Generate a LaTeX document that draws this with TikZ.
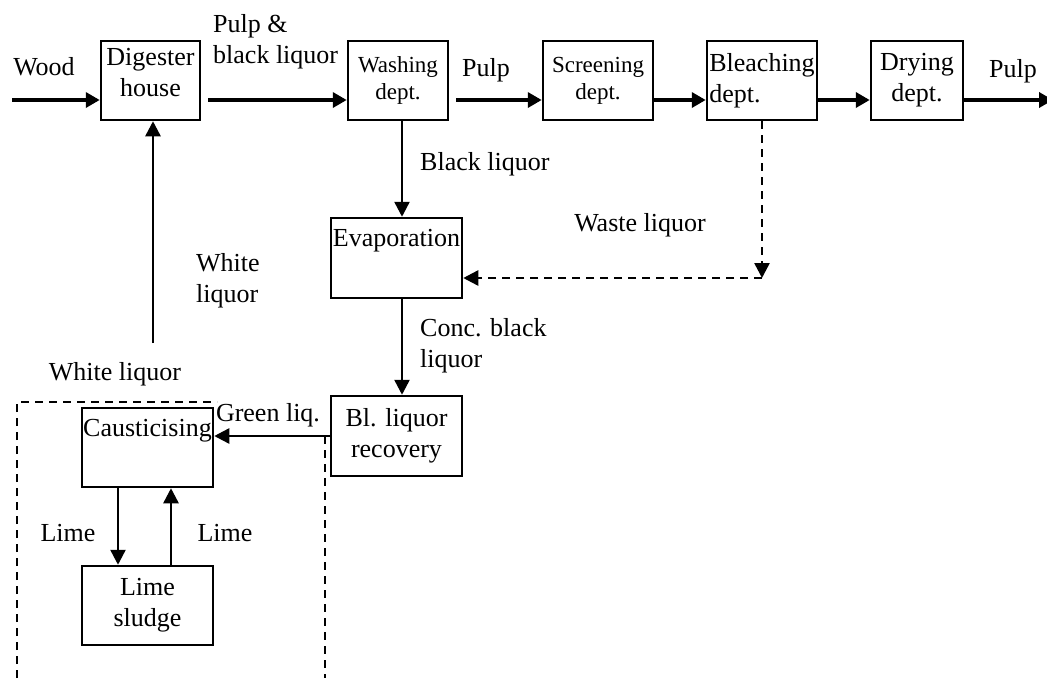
\documentclass[tikz,border=0pt]{standalone}
\usepackage{fontspec}
\setmainfont{Liberation Serif}
\usetikzlibrary{arrows.meta}

\begin{document}
\begin{tikzpicture}[x=1pt,y=-1pt,
    every node/.style={font=\fontsize{26}{31}\selectfont},
    box/.style={draw,line width=2.5pt,inner sep=1pt,align=center,minimum height=79pt},
    small/.style={font=\fontsize{23}{27}\selectfont},
    raised/.style={text depth=16pt},
    txt/.style={inner sep=0pt},
    toplbl/.style={inner sep=12pt,anchor=north},
    flow/.style={line width=4.5pt,-{Triangle[length=14pt,width=15pt]}},
    pipe/.style={line width=2.5pt,-{Triangle[length=15pt,width=15pt]}},
    waste/.style={pipe,dash pattern=on 8pt off 6pt},
    border/.style={line width=2pt,dash pattern=on 8pt off 6pt}]
        \useasboundingbox (0,0) rectangle (1047,678);

          \node[box,raised,minimum width=99pt] (dig) at (150.5,80.5) {Digester\\house};
          \node[box,small,minimum width=100pt] (wash) at (398,80.5) {Washing\\dept.};
          \node[box,small,minimum width=110pt] (screen) at (598,80.5) {Screening\\dept.};
          \node[box,align=left,minimum width=110pt] (bleach) at (762,80.5) {Bleaching\\dept.};
          \node[box,minimum width=92pt] (dry) at (917,80.5) {Drying\\dept.};
          \node[box,minimum width=131pt,minimum height=80pt,label={[toplbl]north:Evaporation}] (evap) at (396.5,258) {};
          \node[box,minimum width=131pt,minimum height=80pt] (recov) at (396.5,436) {Bl. liquor\\recovery};
          \node[box,minimum width=131pt,label={[toplbl]north:Causticising}] (caust) at (147.5,447.5) {};
          \node[box,minimum width=131pt] (sludge) at (147.5,605.5) {Lime\\sludge};

          \coordinate (woodin) at (12,100);
          \coordinate (pulpout) at (1053,100);
          \draw[flow] (woodin) -- (woodin -| dig.west);
          \draw[flow,shorten <=7pt] (dig.east |- woodin) -- (wash.west |- woodin);
          \draw[flow,shorten <=7pt] (wash.east |- woodin) -- (screen.west |- woodin);
          \foreach \a/\b in {screen/bleach,bleach/dry}{
            \draw[flow] (\a.east |- woodin) -- (\b.west |- woodin);
          }
          \draw[flow] (dry.east |- woodin) -- (pulpout);

          \coordinate (spine) at (402,0);
          \draw[pipe] (wash.south -| spine) -- (evap.north -| spine);
          \draw[pipe] (evap.south -| spine) -- (recov.north -| spine);
          \draw[pipe] (recov.west) -- (caust.east |- recov.west);

          \coordinate (wlfoot) at (153,343);
          \draw[pipe] (wlfoot) -- (wlfoot |- dig.south);

          \coordinate (limedown) at (118,0);
          \coordinate (limeup) at (171,0);
          \draw[pipe] (caust.south -| limedown) -- (sludge.north -| limedown);
          \draw[pipe] (sludge.north -| limeup) -- (caust.south -| limeup);

          \coordinate (wastebend) at (762,278);
          \draw[waste] (bleach.south) -- (wastebend);
          \draw[waste] (wastebend) -- (wastebend -| evap.east);

          \draw[border] (17,678) -- (17,402) -- (217,402);
          \draw[border] (recov.west -| 325,0) -- (325,678);

          \node[txt] (woodlbl) at (44,67) {Wood};
          \node[txt,anchor=west,align=left] (pulpblk) at (213,42) {Pulp \&\\black liquor};
          \node[txt] (pulpmid) at (486,70) {Pulp};
          \node[txt] (pulpend) at (1013,71) {Pulp};
          \node[txt,anchor=west] (blklbl) at (420,164) {Black liquor};
          \node[txt] (wastelbl) at (640,225) {Waste liquor};
          \node[txt,anchor=west,align=left] (whiteup) at (196,281) {White\\liquor};
          \node[txt,anchor=west,align=left] (conclbl) at (420,346) {Conc. black\\liquor};
          \node[txt] (whitelbl) at (115,374) {White liquor};
          \node[txt] (greenlbl) at (268,415) {Green liq.};
          \node[txt] (limeleft) at (68,533) {Lime};
          \node[txt] (limeright) at (225,533) {Lime};
        \end{tikzpicture}
\end{document}
